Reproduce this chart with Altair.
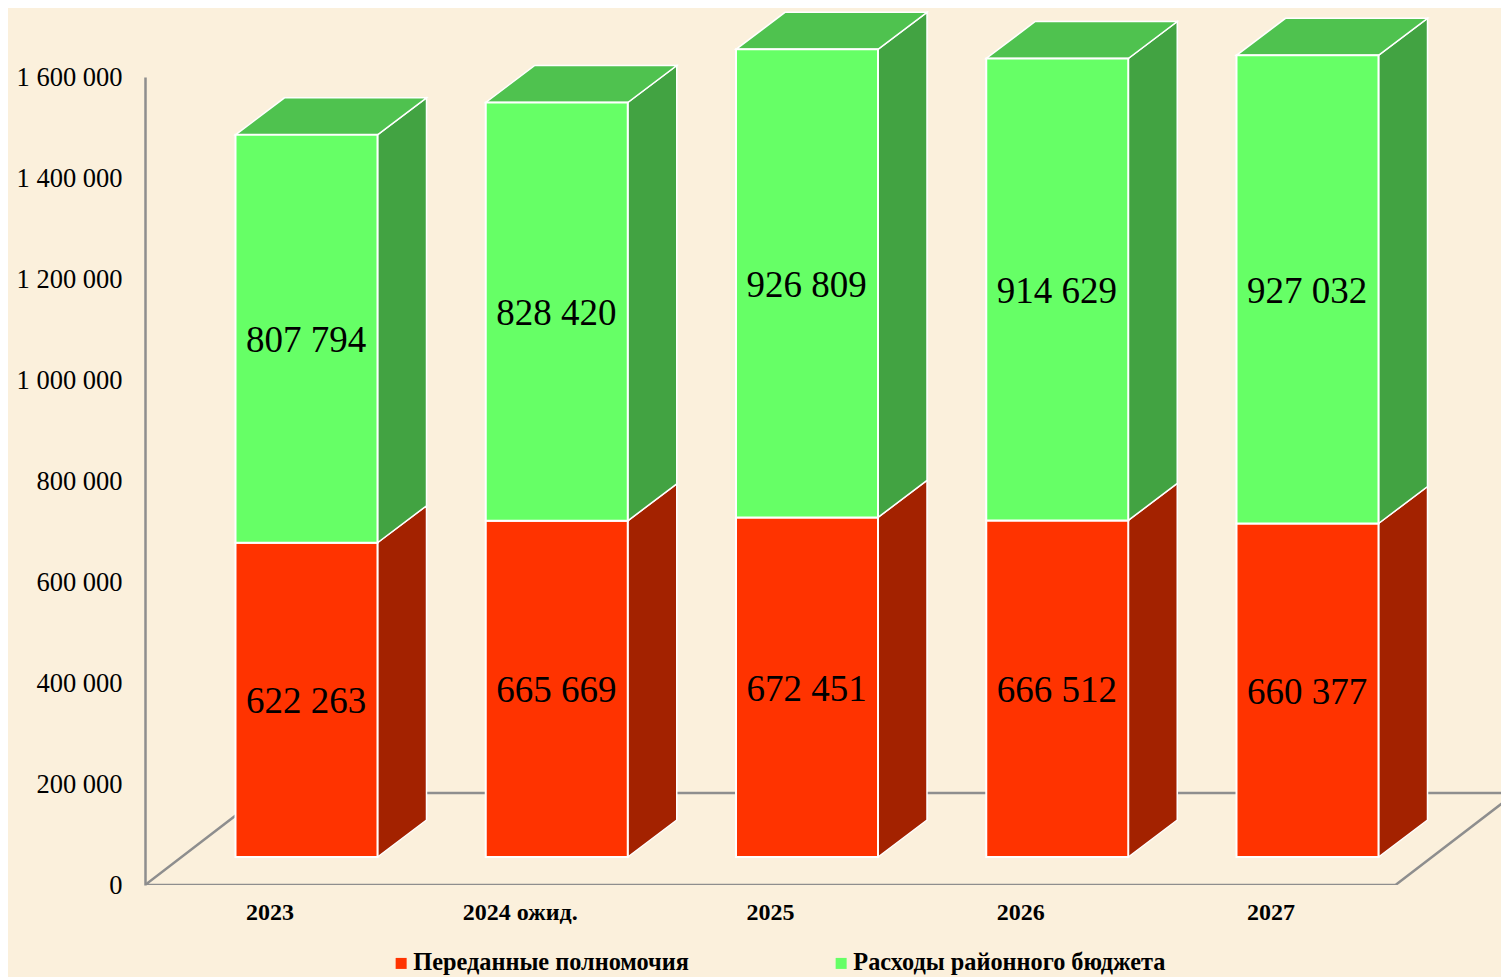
import altair as alt
import pandas as pd

categories = ["2023", "2024 ожид.", "2025", "2026", "2027"]
transferred = [622263, 665669, 672451, 666512, 660377]
district = [807794, 828420, 926809, 914629, 927032]
series_names = ["Переданные полномочия", "Расходы районного бюджета"]

FONT = "Liberation Serif"
BG = "#FBF0DC"
GREY = "#8E8E8E"

# projection of the pseudo-3D box, in data units
PX_X = 250.25          # pixels per category
PX_Y = 808 / 1600000   # pixels per value unit
half = 71 / PX_X
depth_x = 49 / PX_X
depth_y = 37 / PX_Y
base = 28 / PX_Y
floor_x = 120 / PX_X
floor_y = 92 / PX_Y
x_dom = [-161.5 / PX_X, 1194.5 / PX_X]

xs = alt.Scale(domain=x_dom, nice=False, zero=False)
ys = alt.Scale(domain=[0, 1600000], nice=False, zero=False)
y_axis = alt.Axis(
    title=None, values=list(range(0, 1600001, 200000)), ticks=False, grid=False,
    domainColor=GREY, domainWidth=2.5, labelFont=FONT, labelFontSize=26.5,
    labelColor="black", labelPadding=23,
    labelExpr="replace(format(datum.value, ','), /,/g, ' ')",
)
X = alt.X("x:Q", scale=xs, axis=None)
Y = alt.Y("y:Q", scale=ys, stack=None, axis=y_axis)
Y2 = alt.Y2("y2:Q")

rows, sides, tops, labels = [], [], [], []
for i, cat in enumerate(categories):
    lo = base
    for name, val in zip(series_names, (transferred[i], district[i])):
        hi = lo + val
        rows.append(dict(cat=cat, series=name, x=i - half, x2=i + half, y=lo, y2=hi))
        labels.append(dict(cat=cat, x=i - 0.5 / PX_X, y=(lo + hi) / 2 - 2.5 / PX_Y, t=f"{val:,}".replace(",", " ")))
        sides.append(dict(cat=cat, series=name, x=i + half, y=lo, y2=hi))
        sides.append(dict(cat=cat, series=name, x=i + half + depth_x, y=lo + depth_y, y2=hi + depth_y))
        lo = hi
    L, R = i - half, i + half
    tops += [
        dict(cat=cat, x=L, y=lo, y2=lo),
        dict(cat=cat, x=L + depth_x, y=lo, y2=lo + depth_y),
        dict(cat=cat, x=R, y=lo, y2=lo + depth_y),
        dict(cat=cat, x=R + depth_x, y=lo + depth_y, y2=lo + depth_y),
    ]

bars = pd.DataFrame(rows)
side_df = pd.DataFrame(sides)
top_df = pd.DataFrame(tops)
label_df = pd.DataFrame(labels)
cat_df = pd.DataFrame({"t": categories, "x": [i - 36.5 / PX_X for i in range(5)], "y": -28 / PX_Y})

x0, x1 = x_dom[0], (1396 - 307) / PX_X
floor_df = pd.DataFrame({
    "x": [x0 + floor_x, x0, x1, x1 + floor_x, x0 + floor_x],
    "y": [floor_y, 0, 0, floor_y, floor_y],
    "k": [0, 1, 2, 3, 4],
})

floor = alt.Chart(floor_df).mark_line(color=GREY, strokeWidth=2.5, clip=True).encode(
    x=X, y=Y, order="k:Q")

def side(name, colour):
    return alt.Chart(side_df[side_df.series == name]).mark_area(
        color=colour, stroke="white", strokeWidth=1.5, line=False
    ).encode(x=X, y=Y, y2=Y2, detail="cat:N")

top = alt.Chart(top_df).mark_area(
    color="#4FC24F", stroke="white", strokeWidth=1.5
).encode(x=X, y=Y, y2=Y2, detail="cat:N")

front = alt.Chart(bars).mark_rect(stroke="white", strokeWidth=2).encode(
    x=X,
    x2="x2:Q",
    y=Y,
    y2=Y2,
    color=alt.Color("series:N", scale=alt.Scale(domain=series_names, range=["#FF3300", "#66FF66"]),
        legend=alt.Legend(
            title=None, orient="none", legendX=244, legendY=874, direction="horizontal",
            symbolType="square", symbolSize=121, symbolStrokeWidth=0, labelFont=FONT,
            labelFontSize=24.3, labelFontWeight="bold", labelColor="black", labelLimit=400,
            columnPadding=140, labelOffset=0,
        )),
)

value_text = alt.Chart(label_df).mark_text(font=FONT, fontSize=37, color="black").encode(
    x=X, y=Y, text="t:N")
cat_text = alt.Chart(cat_df).mark_text(font=FONT, fontSize=24, fontWeight="bold", color="black").encode(
    x=X, y=Y, text="t:N")

chart = alt.layer(
    floor,
    side(series_names[0], "#A32200"),
    side(series_names[1], "#42A342"),
    top, front, value_text, cat_text,
).properties(
    width=1356, height=808, background=BG,
    padding={"left": 137, "top": 69, "right": 0, "bottom": 92},
    autosize=alt.AutoSizeParams(type="none"),
).configure_view(stroke=None)

chart.save("out.html", embed_options={"renderer": "svg", "actions": False})
